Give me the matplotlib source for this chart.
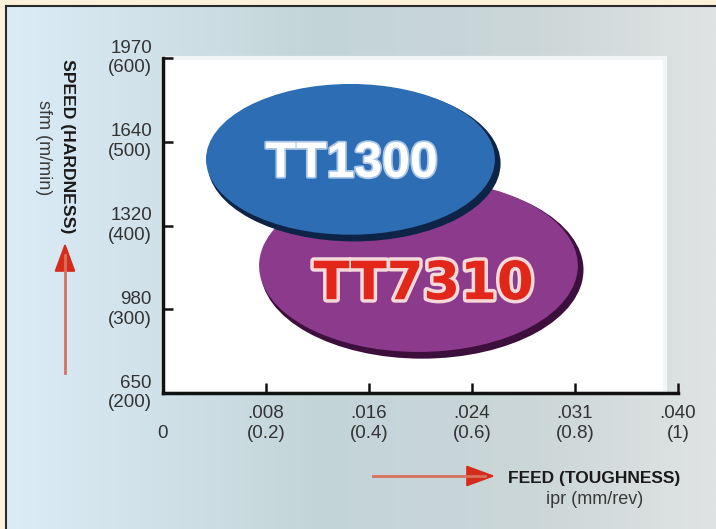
import matplotlib
matplotlib.use("Agg")
import matplotlib.pyplot as plt
import matplotlib.patches as mpatches
import matplotlib.patheffects as pe
import numpy as np
from matplotlib.colors import LinearSegmentedColormap

# chart data (metric axis: feed mm/rev, speed m/min)
grades = ["TT1300", "TT7310"]
feed_center = [0.367, 0.499]
speed_center = [476, 349]
feed_span = [0.573, 0.631]
speed_span = [190, 216]

feed_mm = [0, 0.2, 0.4, 0.6, 0.8, 1.0]
feed_ipr = ["0", ".008", ".016", ".024", ".031", ".040"]
speed_mpm = [200, 300, 400, 500, 600]
speed_sfm = ["650", "980", "1320", "1640", "1970"]

W, H = 716, 529
plt.rcParams["font.family"] = ["Liberation Sans", "DejaVu Sans"]

fig = plt.figure(figsize=(W / 100, H / 100), dpi=100)
fig.patch.set_facecolor("#fdf1dc")

def fx(px):
    return px / W

def fy(py):
    return 1 - py / H

# background panel with soft gradient
bg = fig.add_axes([fx(6), 0, 1 - fx(6), fy(6)])
bg.axis("off")
cmap = LinearSegmentedColormap.from_list(
    "bg", [(0.0, "#dcecf7"), (0.45, "#c3d4d8"), (0.75, "#ccd7d8"), (1.0, "#e0e3e3")])
grad = np.linspace(0, 1, 256)[None, :]
bg.imshow(grad, aspect="auto", cmap=cmap, extent=[0, 1, 0, 1])
bg.set_xlim(0, 1)
bg.set_ylim(0, 1)
fig.add_artist(plt.Line2D([fx(5.5), fx(5.5)], [0, fy(6)], color="#2a2a2a", lw=1.5))
fig.add_artist(plt.Line2D([fx(5.5), 1], [fy(6), fy(6)], color="#2a2a2a", lw=1.5))

# white plotting field
fig.add_artist(mpatches.Rectangle((fx(163), fy(393)), fx(665) - fx(163), fy(58) - fy(393),
                                  transform=fig.transFigure, facecolor="white",
                                  edgecolor="#f2f5f5", lw=3, zorder=1))

ax = fig.add_axes([fx(163), fy(393), fx(678) - fx(163), fy(58) - fy(393)])
ax.set_facecolor("none")
ax.set_zorder(2)
ax.set_xlim(0, 1)
ax.set_ylim(200, 600)
for s in ["top", "right"]:
    ax.spines[s].set_visible(False)
for s in ["left", "bottom"]:
    ax.spines[s].set_linewidth(2.5)
    ax.spines[s].set_color("#111111")

ax.set_xticks(feed_mm)
ax.set_xticklabels(["\n" + feed_ipr[0]] + [f"{a}\n({b:g})" for a, b in zip(feed_ipr[1:], feed_mm[1:])])
ax.set_yticks(speed_mpm)
ax.set_yticklabels([f"{a}\n({b})" for a, b in zip(speed_sfm, speed_mpm)], va="center")
ax.tick_params(axis="both", direction="in", length=7, width=1.8, color="#111111",
               labelsize=13.5, labelcolor="#333333")
ax.tick_params(axis="x", pad=9)
ax.tick_params(axis="y", pad=8)
ax.xaxis.get_major_ticks()[0].tick1line.set_visible(False)

fills = ["#2c6db4", "#8c3a8c"]
shadows = ["#0e2446", "#3c0f3c"]
for i in [1, 0]:
    z = 3 if i == 1 else 5
    ax.add_patch(mpatches.Ellipse((feed_center[i] + 0.004, speed_center[i] - 2),
                                  feed_span[i] - 0.004, speed_span[i] - 4, facecolor=shadows[i],
                                  edgecolor="none", zorder=z))
    ax.add_patch(mpatches.Ellipse((feed_center[i] - 0.003, speed_center[i] + 3),
                                  feed_span[i] - 0.012, speed_span[i] - 10,
                                  facecolor=fills[i], edgecolor="none", zorder=z + 0.5))

ax.text(feed_center[0] - 0.001, 458, grades[0], ha="center", va="baseline",
        fontsize=36, fontweight="bold", color="white", zorder=7,
        path_effects=[pe.withStroke(linewidth=2.5, foreground="#a9c6e8")])
ax.text(feed_center[1] + 0.007, 312, grades[1], ha="center", va="baseline",
        fontsize=38, fontweight="bold", color="#e2261a", zorder=7,
        family=["DejaVu Sans"],
        path_effects=[pe.withStroke(linewidth=5, foreground="#f6dada")])

# axis captions
fig.text(fx(67), fy(146), "SPEED (HARDNESS)", rotation=-90, ha="center", va="center",
         fontsize=12.6, fontweight="bold", color="#1a1a1a")
fig.text(fx(43), fy(148), "sfm (m/min)", rotation=-90, ha="center", va="center",
         fontsize=13, color="#3a3a3a")
fig.text(fx(508), fy(478), "FEED (TOUGHNESS)", ha="left", va="center",
         fontsize=12.5, fontweight="bold", color="#1a1a1a")
fig.text(fx(595), fy(499), "ipr (mm/rev)", ha="center", va="center",
         fontsize=13, color="#3a3a3a")

# direction arrows: pale shaft, darker red head
arrow_style = "-|>,head_length=1.5,head_width=0.55"
fig.add_artist(plt.Line2D([fx(65), fx(65)], [fy(373), fy(255)], color="#d9705c", lw=2))
fig.add_artist(mpatches.FancyArrowPatch((fx(65), fy(262)), (fx(65), fy(240)),
                                        transform=fig.transFigure, arrowstyle=arrow_style,
                                        mutation_scale=12, color="#d42b1b", lw=1.5))
fig.add_artist(plt.Line2D([fx(373), fx(485)], [fy(476), fy(476)], color="#d9705c", lw=2))
fig.add_artist(mpatches.FancyArrowPatch((fx(476), fy(476)), (fx(498), fy(476)),
                                        transform=fig.transFigure, arrowstyle=arrow_style,
                                        mutation_scale=12, color="#d42b1b", lw=1.5))

fig.savefig("out.png", dpi=100)
